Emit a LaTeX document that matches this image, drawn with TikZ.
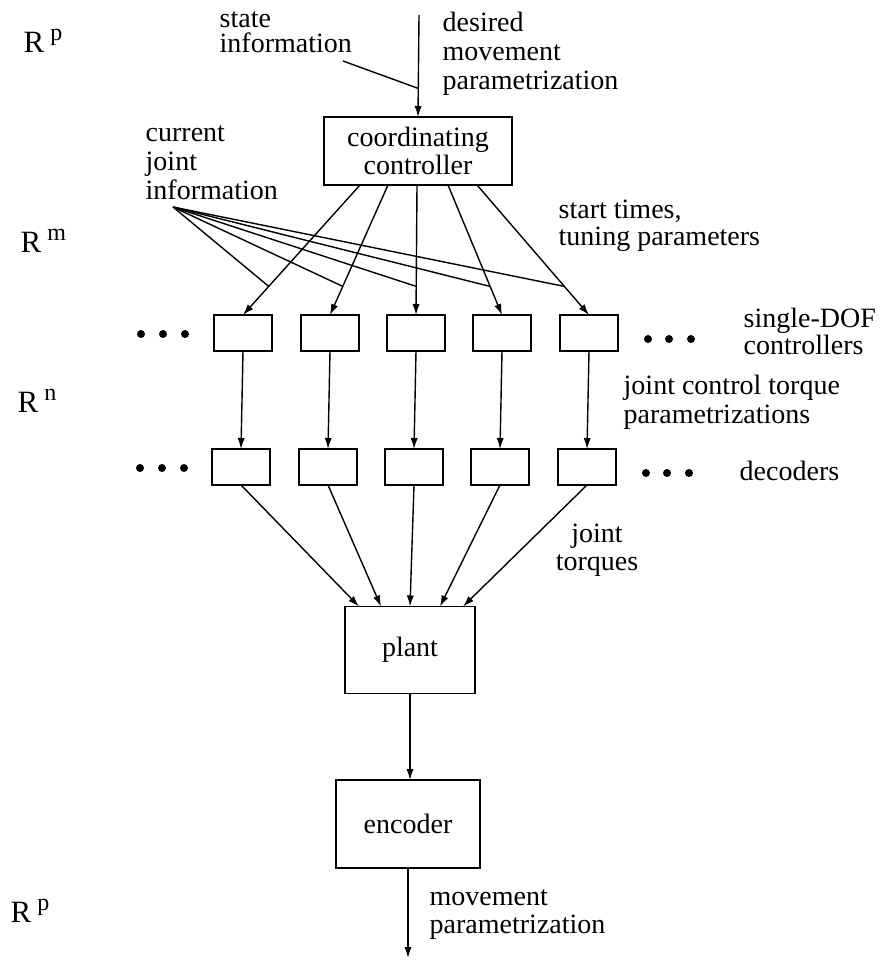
\documentclass[tikz,border=0pt]{standalone}
\usepackage{fontspec}
\setmainfont{Liberation Serif}
\usetikzlibrary{arrows.meta,calc}

\newcommand{\dimsup}[1]{R\hspace{3pt}\raisebox{6pt}{\fontsize{12}{12}\selectfont #1}}

\begin{document}
\begin{tikzpicture}[
    x=0.5pt, y=-0.5pt,
    line width=0.7pt,
    >={Latex[length=5.5pt,width=3.6pt]},
    block/.style={
        draw,
        line width=0.8pt,
        inner sep=0pt,
        outer sep=0pt,
        align=center,
        font=\fontsize{14}{11.5}\selectfont,
    },
    unit/.style={block, minimum width=29pt, minimum height=18pt},
    note/.style={
        inner sep=0pt,
        align=left,
        anchor=base west,
        font=\fontsize{14}{14.5}\selectfont,
    },
    dimlabel/.style={inner sep=0pt, anchor=base west, font=\fontsize{15.5}{15.5}\selectfont},
]
\useasboundingbox (0,0) rectangle (881,961);

\node[block, minimum width=94pt, minimum height=34pt] (CC) at (418,151) {coordinating\\controller};

\foreach \i/\x in {1/243,2/330,3/416,4/502,5/589} {
    \node[unit] (S\i) at (\x,333) {};
    \node[unit] (D\i) at (\x-2,467) {};
}

\node[block, minimum width=65pt, minimum height=43.5pt] (PL) at (410,650) {plant};
\node[block, minimum width=72pt, minimum height=44pt] (EN) at (408,824) {encoder};

% base = last line of each label
\node[note, font=\fontsize{14}{12.5}\selectfont] (state) at (219,53) {state\\information};
\node[note] (desired) at (442,90) {desired\\movement\\parametrization};
\node[note] (current) at (145,200) {current\\joint\\information};
\node[note, font=\fontsize{14}{13.5}\selectfont] (start) at (558,246) {start times,\\tuning parameters};
\node[note, font=\fontsize{14}{11}\selectfont] (single) at (743,355) {single-DOF\\controllers};
\node[note, font=\fontsize{14}{14}\selectfont] (jct) at (623,423) {joint control torque\\parametrizations};
\node[note] (dec) at (739,480) {decoders};
\node[note, align=center, anchor=base, font=\fontsize{14}{14}\selectfont] (jt) at (597,570) {joint\\torques};
\node[note, font=\fontsize{14}{14}\selectfont] (mp) at (429,933) {movement\\parametrization};

\node[dimlabel] (R1) at (23,53) {\dimsup{p}};
\node[dimlabel] (R2) at (20,253) {\dimsup{m}};
\node[dimlabel] (R3) at (17,413) {\dimsup{n}};
\node[dimlabel] (R4) at (10,922) {\dimsup{p}};

\coordinate (IN) at (419,15);
\coordinate (OUT) at (408,958);
\coordinate (FAN) at (173,207);
\coordinate (SI) at (343,61);

\draw[->] (IN) -- (CC.north);
\draw (SI) -- ($(IN)!0.72!(CC.north)$);

\foreach \i/\dx in {1/-58,2/-30,3/-1,4/30,5/59} {
    \coordinate (T\i) at ($(CC.south)+(\dx,0)$);
    \draw[->] (T\i) -- (S\i.north);
    \draw (FAN) -- ($(T\i)!0.78!(S\i.north)$);
    \draw[->] (S\i.south) -- (D\i.north);
}

\foreach \i/\dx in {1/-51,2/-29,3/0,4/30,5/53}
    \draw[->] (D\i.south) -- ($(PL.north)+(\dx,0)$);

\draw[->] (PL.south) -- (PL.south |- EN.north);
\draw[->] (EN.south) -- (OUT);

\foreach \x in {141,163,185} {
    \fill (\x,334) circle (4);
    \fill (\x-1,468) circle (4);
}
\foreach \x in {648,669,691} {
    \fill (\x,339) circle (4);
    \fill (\x-2,473) circle (4);
}

\end{tikzpicture}
\end{document}
